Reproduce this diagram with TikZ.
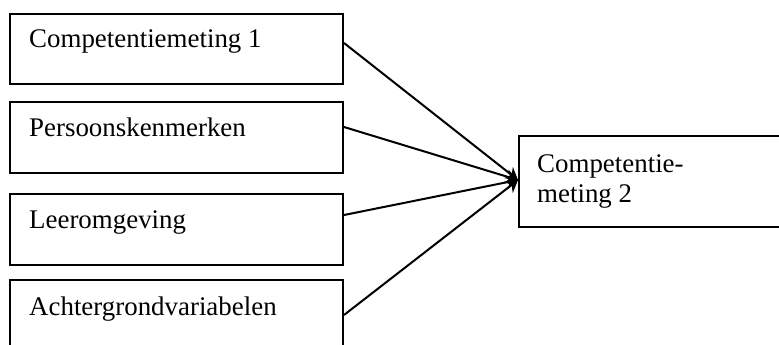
\documentclass[tikz,border=0pt]{standalone}
\usepackage{fontspec}
\setmainfont{Liberation Serif}
\usetikzlibrary{arrows.meta}
\begin{document}
\begin{tikzpicture}[x=1pt,y=-1pt,
  box/.style={draw=black,line width=2pt,rectangle,inner sep=0pt,anchor=north west},
  lbl/.style={anchor=base west,inner sep=0pt,font=\fontsize{26.9}{30}\selectfont,align=left},
  conn/.style={line width=2pt,-{Stealth[length=12pt,width=14pt]}}]
\useasboundingbox (0,0) rectangle (779,345);
\clip (0,0) rectangle (779,345);
\fill[white] (0,0) rectangle (779,345);
\node[box,minimum width=333pt,minimum height=70pt] (b1) at (9,13) {};
\node[box,minimum width=333pt,minimum height=71pt] (b2) at (9,101) {};
\node[box,minimum width=333pt,minimum height=71pt] (b3) at (9,193) {};
\node[box,minimum width=333pt,minimum height=90pt] (b4) at (9,279) {};
\node[box,minimum width=300pt,minimum height=91pt] (t) at (518,135) {};
\node[lbl] (l1) at (29,48) {Competentiemeting 1};
\node[lbl] (l2) at (29,136) {Persoonskenmerken};
\node[lbl] (l3) at (29,228) {Leeromgeving};
\node[lbl] (l4) at (29,315) {Achtergrondvariabelen};
\node[lbl] (lt) at (537,202) {Competentie-\\meting 2};
\coordinate (tip) at ([yshift=-45pt]t.north west);
\draw[conn] ([yshift=-30pt]b1.north east) -- (tip);
\draw[conn] ([yshift=-26pt]b2.north east) -- (tip);
\draw[conn] ([yshift=-22pt]b3.north east) -- (tip);
\draw[conn] ([yshift=-36pt]b4.north east) -- (tip);
\end{tikzpicture}
\end{document}
